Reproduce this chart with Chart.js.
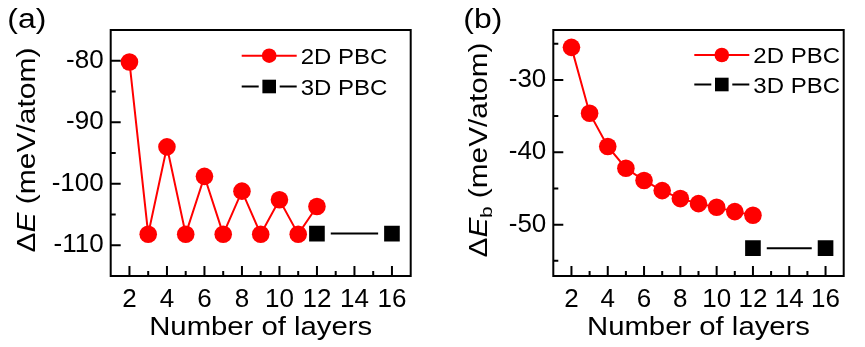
<!DOCTYPE html>
<html><head><meta charset="utf-8">
<script src="https://cdn.jsdelivr.net/npm/chart.js@4/dist/chart.umd.min.js"></script>
<style>
html,body{margin:0;padding:0;background:#fff;}
#wrap{position:relative;width:865px;height:347px;overflow:hidden;}
canvas{position:absolute;top:0;}
#ca{left:0;}
#cb{left:432px;}
</style></head><body>
<div id="wrap"><canvas id="ca" width="432" height="347"></canvas><canvas id="cb" width="433" height="347"></canvas></div>
<script>
// ---- data ----
const layers2D = [2, 3, 4, 5, 6, 7, 8, 9, 10, 11, 12];
const layers3D = [12, 16];
const dE2D  = [-80.2, -108.2, -94.0, -108.2, -98.8, -108.2, -101.2, -108.2, -102.6, -108.2, -103.7];
const dE3D  = [-108.1, -108.1];
const dEb2D = [-25.5, -34.6, -39.2, -42.2, -43.9, -45.3, -46.4, -47.1, -47.6, -48.2, -48.7];
const dEb3D = [-53.25, -53.25];
const seriesLabels = ['2D PBC', '3D PBC'];
const xTickValues = [2, 4, 6, 8, 10, 12, 14, 16];
const xMinorValues = [3, 5, 7, 9, 11, 13, 15];
const yTickValuesA = [-80, -90, -100, -110];
const yMinorValuesA = [-85, -95, -105];
const yTickValuesB = [-30, -40, -50];
const yMinorValuesB = [-25, -35, -45, -55];
const xTitle = 'Number of layers';
const yTitleA = [{t:'Δ'}, {t:'E', it:true}, {t:' (meV/atom)'}];
const yTitleB = [{t:'Δ'}, {t:'E', it:true}, {t:'b', sub:true}, {t:' (meV/atom)'}];

const FONT = '"Liberation Sans", Arial, sans-serif';
const RED = '#ff0000';

function fontOf(s, size){
  const sz = s.sub ? Math.round(size*0.68) : size;
  return (s.it ? 'italic ' : '') + sz + 'px ' + FONT;
}
// rich text fitted to target length, drawn at (x,y) baseline-centered
function drawRich(ctx, segs, cx, cy, rot, size, targetW){
  ctx.save();
  ctx.translate(cx, cy); ctx.rotate(rot);
  let w = 0;
  const ws = segs.map(s => { ctx.font = fontOf(s, size); const m = ctx.measureText(s.t).width; w += m; return m; });
  const k = targetW ? targetW / w : 1;
  ctx.scale(k, 1);
  ctx.fillStyle = '#000'; ctx.textAlign = 'left'; ctx.textBaseline = 'alphabetic';
  let x = -w/2;
  segs.forEach((s, i) => { ctx.font = fontOf(s, size); ctx.fillText(s.t, x, s.sub ? size*0.22 : 0); x += ws[i]; });
  ctx.restore();
}

const decor = {
  id: 'decor',
  afterDraw(chart, args, o){
    const ctx = chart.ctx, ca = chart.chartArea, xs = chart.scales.x, ys = chart.scales.y;
    ctx.save();
    ctx.strokeStyle = '#000'; ctx.lineWidth = 2; ctx.lineCap = 'butt';
    // inward ticks
    ctx.beginPath();
    xTickValues.forEach(v => { const p = xs.getPixelForValue(v); ctx.moveTo(p, ca.bottom); ctx.lineTo(p, ca.bottom - 10); });
    xMinorValues.forEach(v => { const p = xs.getPixelForValue(v); ctx.moveTo(p, ca.bottom); ctx.lineTo(p, ca.bottom - 5); });
    o.yMajor.forEach(v => { const p = ys.getPixelForValue(v); ctx.moveTo(ca.left, p); ctx.lineTo(ca.left + 10, p); });
    o.yMinor.forEach(v => { const p = ys.getPixelForValue(v); ctx.moveTo(ca.left, p); ctx.lineTo(ca.left + 5, p); });
    ctx.stroke();
    // frame
    ctx.strokeRect(ca.left, ca.top, ca.right - ca.left, ca.bottom - ca.top);
    // legend
    const ds = chart.data.datasets;
    const L = o.legend;
    ds.forEach((d, i) => {
      const y = L.y + i * L.dy;
      ctx.strokeStyle = d.borderColor; ctx.lineWidth = 2;
      ctx.beginPath();
      if (d.pointStyle === 'rect') {
        ctx.moveTo(L.x, y); ctx.lineTo(L.x + 17, y);
        ctx.moveTo(L.x + 38, y); ctx.lineTo(L.x + 55, y);
      } else {
        ctx.moveTo(L.x, y); ctx.lineTo(L.x + 55, y);
      }
      ctx.stroke();
      ctx.fillStyle = d.pointBackgroundColor;
      const cx = L.x + 27.5;
      if (d.pointStyle === 'rect') { ctx.fillRect(cx - 6.8, y - 6.8, 13.6, 13.6); }
      else { ctx.beginPath(); ctx.arc(cx, y, 7.3, 0, Math.PI*2); ctx.fill(); }
      drawRich(ctx, [{t: d.label}], L.x + 59 + L.tw/2, y + 8, 0, 22, L.tw);
    });
    // axis titles
    drawRich(ctx, [{t: xTitle}], (ca.left + ca.right)/2, 334.5, 0, 25, 223);
    drawRich(ctx, o.yTitle, o.yTitleX, o.yTitleY, -Math.PI/2, 25, o.yTitleW);
    // panel label
    drawRich(ctx, [{t: o.panel}], o.panelX + 19.5, 27.5, 0, 27, 39);
    ctx.restore();
  }
};

function makeChart(id, y2D, y3D, yMin, yMax, yTicks, yMinor, yAxisW, padRight, extra){
  return new Chart(document.getElementById(id), {
    type: 'scatter',
    data: {
      datasets: [
        { label: seriesLabels[0], data: layers2D.map((x, i) => ({x, y: y2D[i]})), showLine: true,
          borderColor: RED, borderWidth: 2, pointStyle: 'circle', pointRadius: 8.8, pointHoverRadius: 8.8,
          pointBackgroundColor: RED, pointBorderColor: RED, pointBorderWidth: 0 },
        { label: seriesLabels[1], data: layers3D.map((x, i) => ({x, y: y3D[i]})), showLine: true,
          borderColor: '#000', borderWidth: 2, pointStyle: 'rect', pointRadius: 15.3, pointHoverRadius: 15.3,
          pointBackgroundColor: '#000', pointBorderColor: '#fff', pointBorderWidth: 6 }
      ]
    },
    options: {
      responsive: false, animation: false, devicePixelRatio: 1,
      layout: { padding: { top: 30, right: padRight, left: 0, bottom: 0 } },
      plugins: { legend: { display: false }, tooltip: { enabled: false }, decor: extra },
      scales: {
        x: { type: 'linear', min: 1, max: 17,
             grid: { display: false, drawTicks: false }, border: { display: false },
             afterBuildTicks: s => { s.ticks = xTickValues.map(v => ({value: v})); },
             afterFit: s => { s.height = 71; },
             ticks: { color: '#000', padding: 8, maxRotation: 0, autoSkip: false, font: { family: FONT, size: 26 } } },
        y: { type: 'linear', min: yMin, max: yMax,
             grid: { display: false, drawTicks: false }, border: { display: false },
             afterBuildTicks: s => { s.ticks = yTicks.map(v => ({value: v})); },
             afterFit: s => { s.width = yAxisW; },
             ticks: { color: '#000', padding: 7, autoSkip: false, font: { family: FONT, size: 26 } } }
      }
    },
    plugins: [decor]
  });
}

makeChart('ca', dE2D, dE3D, -115, -75, yTickValuesA, yMinorValuesA, 110.7, 9.3,
  { yMajor: yTickValuesA, yMinor: yMinorValuesA, yTitle: yTitleA, yTitleX: 34.5, yTitleY: 150, yTitleW: 205,
    legend: { x: 241.7, y: 55.7, dy: 30.8, tw: 86.7 }, panel: '(a)', panelX: 7.3 });
makeChart('cb', dEb2D, dEb3D, -57.1, -23.1, yTickValuesB, yMinorValuesB, 121.3, 1.5,
  { yMajor: yTickValuesB, yMinor: yMinorValuesB, yTitle: yTitleB, yTitleX: 54.5, yTitleY: 150, yTitleW: 215,
    legend: { x: 262.3, y: 55, dy: 29.5, tw: 86.7 }, panel: '(b)', panelX: 31.3 });
</script>
</body></html>
